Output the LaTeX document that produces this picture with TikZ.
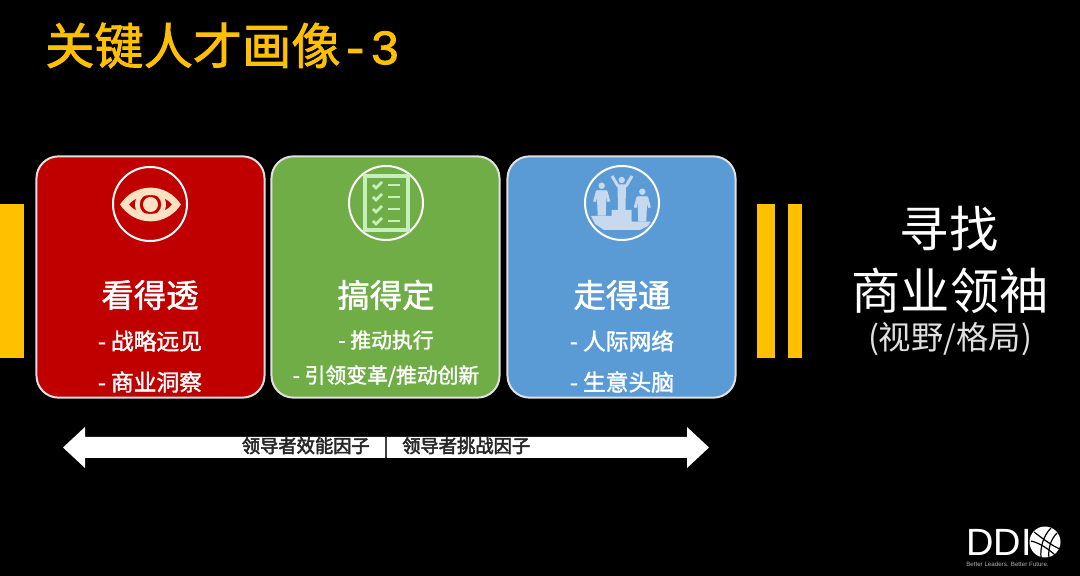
\documentclass[tikz,border=0pt]{standalone}
\usepackage{fontspec}
\setmainfont{Noto Sans CJK SC}
\newfontfamily\logofont{Liberation Sans}
\newfontfamily\heavyfont[FakeBold=1.6]{Noto Sans CJK SC}
\newfontfamily\strongfont[FakeBold=2.8]{Noto Sans CJK SC}
\newfontfamily\codefont[FakeBold=1.6]{Liberation Mono}
\usetikzlibrary{calc}
\definecolor{cardred}{HTML}{C00000}
\definecolor{cardgreen}{HTML}{70AD47}
\definecolor{cardblue}{HTML}{5B9BD5}
\definecolor{baryellow}{HTML}{FFC000}
\definecolor{eyetint}{HTML}{FFE0C2}
\definecolor{listtint}{HTML}{C5F0BC}
\definecolor{podiumtint}{HTML}{C6D9EF}
\tikzset{
	card/.style={draw=white!88!black,line width=0.05cm,rounded corners=0.55cm,minimum width=5.7cm,minimum height=6.03cm,inner sep=0pt},
	badge/.style={draw=white,line width=0.05cm,circle,minimum size=1.85cm,inner sep=0pt},
	cardtitle/.style={text=white,font=\heavyfont\fontsize{23}{25}\selectfont},
	carditem/.style={text=white,font=\heavyfont\fontsize{16.2}{18}\selectfont},
	greenitem/.style={text=white,font=\heavyfont\fontsize{14.8}{18}\selectfont},
	bigtext/.style={text=white,font=\fontsize{35}{40}\selectfont},
}
\begin{document}
\begin{tikzpicture}[x=0.025cm,y=-0.025cm]
	\useasboundingbox [fill=black] (0,0) rectangle (1080,576);

	\node [text=baryellow,anchor=west,inner sep=0pt,font=\heavyfont\fontsize{35}{40}\selectfont] (title) at (45,45.5) {关键人才画像{\codefont\fontsize{35}{40}\selectfont-3}};

	% yellow bars
	\fill [baryellow] (0,204) rectangle (24,358);
	\fill [baryellow] (757,204) rectangle (775,358);
	\fill [baryellow] (788,204) rectangle (802,358);

	% cards
	\node [card,fill=cardred] (red) at (150.5,277) {};
	\node [card,fill=cardgreen] (green) at (385.5,277) {};
	\node [card,fill=cardblue] (blue) at (621.5,277) {};

	\node [badge] (eye) at (150,204) {};
	\node [badge] (list) at (386,203) {};
	\node [badge] (podium) at (622,203) {};

	% eye
	\fill [eyetint,even odd rule] (120,204.5) .. controls (135,182) and (166,182) .. (181,204.5) .. controls (166,227) and (135,227) .. (120,204.5)
		(129,204.5) .. controls (139,192) and (162,192) .. (172,204.5) .. controls (162,217) and (139,217) .. (129,204.5);
	\fill [eyetint,even odd rule] (150.5,204.5) circle (15.5) (150.5,204.5) circle (10.8);
	\fill [eyetint] (150.5,204.5) circle (7.5);

	% checklist
	\draw [listtint,line width=0.12cm] (365,176) rectangle (408,230);
	\foreach \y in {185,197,209,221}{
		\draw [listtint,line width=0.07cm] (373,\y) -- (376,\y+3) -- (382,\y-3);
		\draw [listtint,line width=0.07cm] (388,\y) -- (400,\y);
	}

	% podium
	\fill [podiumtint] (591,216) -- (611.7,216) -- (611.7,210) -- (631.7,210) -- (631.7,221.7) -- (650.7,221.7) -- (648,226) -- (640,230) -- (604,230) -- (595,224) -- cycle;
	\fill [podiumtint] (621.7,180) circle (3.2);
	\draw [podiumtint,line width=0.075cm,line join=round] (612,176) -- (618,186) -- (626,186) -- (632,176);
	\fill [podiumtint] (617.5,185) -- (626,185) -- (625.5,210) -- (618,210) -- cycle;
	\foreach \x/\yh in {601.7/185.7,642.3/191.7}{
		\fill [podiumtint] (\x,\yh) circle (3.2);
		\draw [podiumtint,line width=0.07cm,line join=round] (\x-7.2,\yh+16) -- (\x-4.5,\yh+6) -- (\x+4.5,\yh+6) -- (\x+7.2,\yh+16);
		\fill [podiumtint] (\x-5,\yh+5) -- (\x+5,\yh+5) -- (\x+4,\yh+30) -- (\x-4,\yh+30) -- cycle;
	}

	% card texts
	\node [cardtitle] (redtitle) at (150,295) {看得透};
	\node [carditem] (reda) at (150,341) {- 战略远见};
	\node [carditem] (redb) at (150,382) {- 商业洞察};

	\node [cardtitle] (greentitle) at (386,295) {搞得定};
	\node [greenitem] (greena) at (386,340) {- 推动执行};
	\node [greenitem] (greenb) at (386,376) {- 引领变革/推动创新};

	\node [cardtitle] (bluetitle) at (622,295) {走得通};
	\node [carditem] (bluea) at (622,341) {- 人际网络};
	\node [carditem] (blueb) at (622,382) {- 生意头脑};

	% arrow
	\fill [white] (63,447.5) -- (85,427) -- (85,437) -- (687,437) -- (687,427) -- (709,447.5) -- (687,468) -- (687,458) -- (85,458) -- (85,468) -- cycle;
	\node [text=black!85,font=\strongfont\fontsize{13}{15}\selectfont] (factors) at (386,447.5) {领导者效能因子\hspace{0.75em}|\hspace{0.75em}领导者挑战因子};

	% right side
	\node [bigtext] (seek) at (949,229) {寻找};
	\node [bigtext] (leader) at (950,291) {商业领袖};
	\node [text=white!88!black,font=\fontsize{23}{26}\selectfont] (scope) at (950,339) {(视野/格局)};

	% logo
	\node [text=white,anchor=west,inner sep=0pt,font=\logofont\fontsize{27}{30}\selectfont] (ddi) at (966,542) {DDI};
	\fill [white] (1045,542) circle (15.5);
	\draw [black,line width=0.03cm] (1034,532) .. controls (1042,538) and (1052,546) .. (1060,549);
	\draw [black,line width=0.03cm] (1031,541) .. controls (1040,543) and (1050,550) .. (1056,556);
	\draw [black,line width=0.03cm] (1051,528) .. controls (1043,536) and (1040,548) .. (1041,558);
	\draw [black,line width=0.03cm] (1057,533) .. controls (1050,540) and (1048,550) .. (1049,558);
	\node [text=white!70!black,anchor=west,inner sep=0pt,font=\logofont\fontsize{4.4}{5}\selectfont] (motto) at (966,564) {Better Leaders. Better Future.};
\end{tikzpicture}
\end{document}
